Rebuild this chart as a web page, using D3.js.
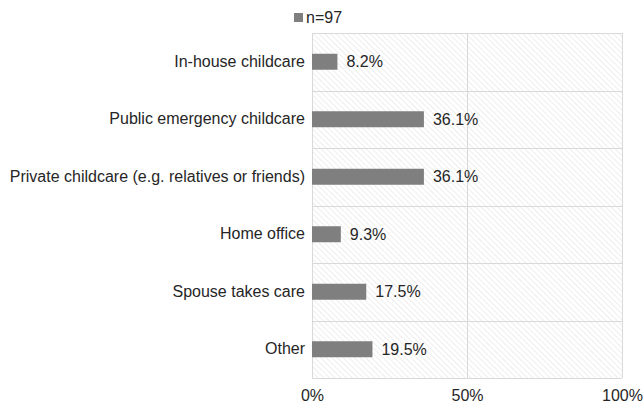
<!DOCTYPE html>
<html>
<head>
<meta charset="utf-8">
<script src="https://cdn.jsdelivr.net/npm/d3@7"></script>
<style>
  html, body { margin: 0; padding: 0; background: #fff; }
  svg text { font-family: "Liberation Sans", Arial, sans-serif; fill: #262626; }
</style>
</head>
<body>
<svg id="chart" width="644" height="406"></svg>
<script>
// Childcare arrangements, share of respondents
const categories = [
  "In-house childcare",
  "Public emergency childcare",
  "Private childcare (e.g. relatives or friends)",
  "Home office",
  "Spouse takes care",
  "Other"
];
const values = [8.2, 36.1, 36.1, 9.3, 17.5, 19.5];
const tickValues = [0, 50, 100];
const seriesName = "n=97";

const svg = d3.select("#chart");
const margin = { top: 33, right: 22, bottom: 28, left: 312 };
const width = 644, height = 406;
const plotW = width - margin.left - margin.right;
const plotH = height - margin.top - margin.bottom;
const fontSize = 16;

const x = d3.scaleLinear().domain([0, 100]).range([0, plotW]);
const y = d3.scaleBand().domain(categories).range([0, plotH]).paddingInner(0).paddingOuter(0);
const barH = 16;

// Light diagonal hatch behind the plot
const defs = svg.append("defs");
const pat = defs.append("pattern")
  .attr("id", "hatch")
  .attr("patternUnits", "userSpaceOnUse")
  .attr("width", 4).attr("height", 4)
  .attr("patternTransform", "rotate(-45)");
pat.append("rect").attr("width", 4).attr("height", 4).attr("fill", "#ffffff");
pat.append("line").attr("x1", 0).attr("y1", 0).attr("x2", 0).attr("y2", 4)
  .attr("stroke", "#e4e4e4").attr("stroke-width", 1.2);

const g = svg.append("g").attr("transform", `translate(${margin.left},${margin.top})`);

g.append("rect").attr("width", plotW).attr("height", plotH).attr("fill", "url(#hatch)");

// Horizontal separators between categories
const bounds = categories.map(c => y(c)).concat([plotH]);
g.selectAll(".hgrid").data(bounds).join("line")
  .attr("x1", 0).attr("x2", plotW)
  .attr("y1", d => Math.round(d) + 0.5).attr("y2", d => Math.round(d) + 0.5)
  .attr("stroke", "#d9d9d9").attr("stroke-width", 1);

// Vertical gridlines at ticks
g.selectAll(".vgrid").data(tickValues).join("line")
  .attr("x1", d => Math.round(x(d)) + 0.5).attr("x2", d => Math.round(x(d)) + 0.5)
  .attr("y1", 0).attr("y2", plotH)
  .attr("stroke", "#d9d9d9").attr("stroke-width", 1);

// Bars
g.selectAll(".bar").data(values).join("rect")
  .attr("x", 0)
  .attr("y", (d, i) => y(categories[i]) + y.bandwidth() / 2 - barH / 2)
  .attr("width", d => x(d))
  .attr("height", barH)
  .attr("fill", "#7f7f7f");

// Value labels
g.selectAll(".val").data(values).join("text")
  .attr("x", d => x(d) + 9)
  .attr("y", (d, i) => y(categories[i]) + y.bandwidth() / 2)
  .attr("dy", "0.35em")
  .attr("font-size", fontSize)
  .text(d => d.toFixed(1) + "%");

// Category axis labels
const yAxis = d3.axisLeft(y).tickSize(0).tickPadding(7);
const ya = g.append("g").call(yAxis);
ya.select(".domain").remove();
ya.selectAll("text").attr("font-size", fontSize).attr("font-family", null).style("fill", "#262626");

// Percent axis labels
const xAxis = d3.axisBottom(x).tickValues(tickValues).tickSize(0).tickPadding(12)
  .tickFormat(d => d + "%");
const xa = g.append("g").attr("transform", `translate(0,${plotH})`).call(xAxis);
xa.select(".domain").remove();
xa.selectAll("text").attr("font-size", fontSize).attr("font-family", null).style("fill", "#262626");

// Legend
const lg = svg.append("g").attr("transform", "translate(294,13)");
lg.append("rect").attr("width", 9).attr("height", 9).attr("fill", "#7f7f7f");
lg.append("text").attr("x", 12).attr("y", 4.5).attr("dy", "0.35em")
  .attr("font-size", fontSize).text(seriesName);
</script>
</body>
</html>
